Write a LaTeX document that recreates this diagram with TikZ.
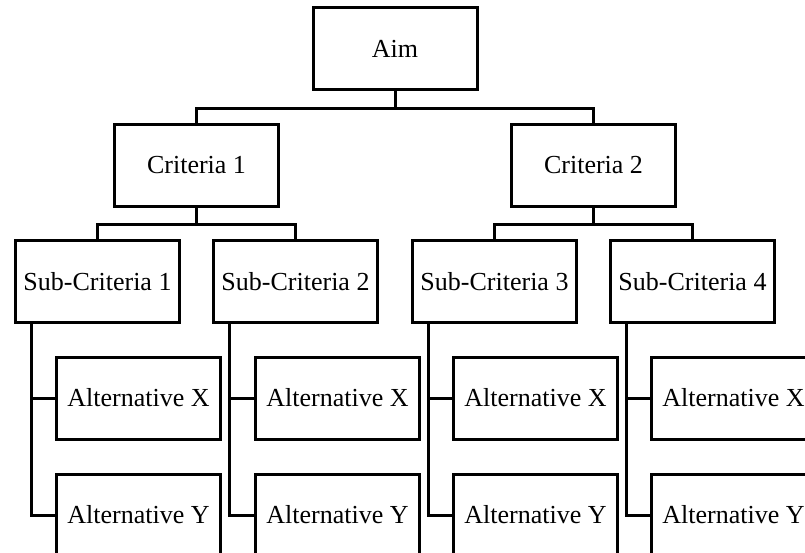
\documentclass[tikz,border=0pt]{standalone}
\usepackage{fontspec}
\setmainfont{Liberation Serif}
\begin{document}
\begin{tikzpicture}[x=1pt,y=-1pt,line width=3pt,
  box/.style={draw,rectangle,minimum width=164pt,minimum height=82pt,inner sep=0pt,
    font=\fontsize{26}{30}\selectfont},
  conn/.style={draw,line width=3pt}]
\useasboundingbox (0,0) rectangle (805,553);
\clip (0,0) rectangle (805,553);
\node[box] (aim) at (395,49) {Aim};
\node[box] (c1) at (196.5,165.5) {Criteria 1};
\node[box] (c2) at (593.5,165.5) {Criteria 2};
\node[box] (s1) at (97.5,281.5) {Sub-Criteria 1};
\node[box] (s2) at (295.5,281.5) {Sub-Criteria 2};
\node[box] (s3) at (494.5,281.5) {Sub-Criteria 3};
\node[box] (s4) at (692.5,281.5) {Sub-Criteria 4};
\node[box] (x1) at (138.5,398) {Alternative X};
\node[box] (x2) at (337.5,398) {Alternative X};
\node[box] (x3) at (535.5,398) {Alternative X};
\node[box] (x4) at (733.5,398) {Alternative X};
\node[box] (y1) at (138.5,515) {Alternative Y};
\node[box] (y2) at (337.5,515) {Alternative Y};
\node[box] (y3) at (535.5,515) {Alternative Y};
\node[box] (y4) at (733.5,515) {Alternative Y};
\draw[conn] (aim.south) -- ++(0,17) -| (c1.north);
\draw[conn] (aim.south) -- ++(0,17) -| (c2.north);
\draw[conn] (c1.south) -- ++(0,17) -| (s1.north);
\draw[conn] (c1.south) -- ++(0,17) -| (s2.north);
\draw[conn] (c2.south) -- ++(0,17) -| (s3.north);
\draw[conn] (c2.south) -- ++(0,17) -| (s4.north);
\foreach \s/\a/\b in {s1/x1/y1,s2/x2/y2,s3/x3/y3,s4/x4/y4}{
  \coordinate (\s k) at ([xshift=17pt]\s.south west);
  \draw[conn] (\s k) |- (\a.west);
  \draw[conn] (\s k) |- (\b.west);
}
\end{tikzpicture}
\end{document}
